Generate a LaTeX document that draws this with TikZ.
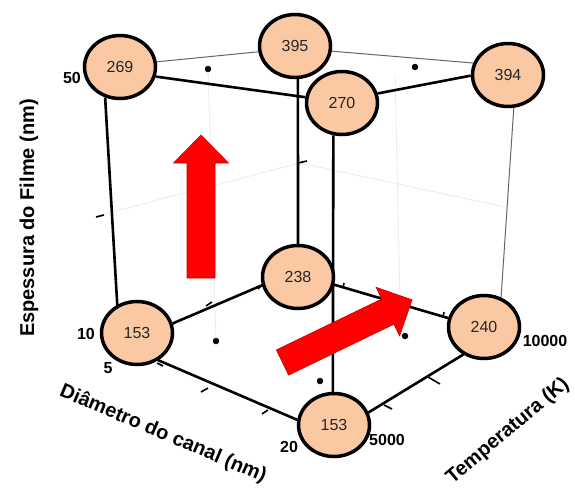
\documentclass[tikz,border=0pt]{standalone}
\usepackage{fontspec}
\setmainfont{Liberation Sans}
\usetikzlibrary{shapes.geometric,backgrounds}
\definecolor{peach}{RGB}{250,201,163}
\definecolor{arrowred}{RGB}{255,0,0}
\begin{document}
\begin{tikzpicture}[x=1pt,y=-1pt,
  val/.style={ellipse,draw=black,line width=3.5pt,fill=peach,minimum width=71pt,
    minimum height=63pt,inner sep=0pt,font=\fontsize{16}{18}\selectfont,text=black!85},
  edgethick/.style={line width=2.6pt,black},
  edgethin/.style={line width=1pt,black!60},
  ticklab/.style={font=\bfseries\fontsize{16}{18}\selectfont,inner sep=0pt},
  axlab/.style={font=\bfseries\fontsize{20}{22}\selectfont,inner sep=0pt},
  tickmark/.style={line width=1.6pt,black},
  gridline/.style={line width=0.8pt,black!8},
  griddot/.style={circle,fill=black,inner sep=0pt,minimum size=6.5pt},
  bigarrow/.style={fill=arrowred,draw=red!80!black,line width=0.6pt,line join=miter}
]
\useasboundingbox (0,0) rectangle (575,490);

% measured values at the corners of the design cube
\node[val] (a) at (120,67)  {269};
\node[val] (b) at (295,46)  {395};
\node[val] (c) at (342,103) {270};
\node[val] (d) at (508,75)  {394};
\node[val] (e) at (298,277) {238};
\node[val] (f) at (137,333) {153};
\node[val] (g) at (484,327) {240};
\node[val] (h) at (334,425) {153};

% centre points of the faces
\node[griddot] (m1) at (208,69) {};
\node[griddot] (m2) at (415,67) {};
\node[griddot] (m3) at (216,341) {};
\node[griddot] (m4) at (405,336) {};
\node[griddot] (m5) at (320,381) {};

\begin{pgfonlayer}{background}
  % faint pane grid
  \draw[gridline] (100,215) -- (300,163) -- (505,207);
  \draw[gridline] (m1) -- (m3);
  \draw[gridline] (395,75) -- (400,300);
  % cube edges
  \draw[edgethick] (a.-116) -- (f.125);
  \draw[edgethick] (a.-15)  -- (c.171);
  \draw[edgethin]  (a.8)    -- (b.-171);
  \draw[edgethin]  (b.-8)   -- (d.161);
  \draw[edgethick] (c.15)   -- (d.-179);
  \draw[edgethick] (b.-85)  -- (e.90);
  \draw[edgethick] (c.-105) -- (h.92);
  \draw[edgethin]  (d.-80)  -- (g.60);
  \draw[edgethick] (f.15)   -- (e.-167);
  \draw[edgethick] (e.-12)  -- (g.166);
  \draw[edgethick] (f.-52)  -- (h.172);
  \draw[edgethick] (g.-127) -- (h.20);
  % axis tick marks
  \draw[tickmark] (104,215) -- (96,217);
  \draw[tickmark] (298,163) -- (307,161);
  \draw[tickmark] (212,302) -- (206,306);
  \draw[tickmark] (258,289) -- (262,285);
  \draw[tickmark] (163,366) -- (157,363);
  \draw[tickmark] (208,388) -- (201,392);
  \draw[tickmark] (268,410) -- (262,414);
  \draw[tickmark] (428,377) -- (440,384);
  \draw[tickmark] (384,405) -- (392,409);
  \draw[tickmark] (343,288) -- (344,283);
  \draw[tickmark] (443,317) -- (444,312);
\end{pgfonlayer}

% axis values
\node[ticklab] (t50)    at (72,78)   {50};
\node[ticklab] (t10)    at (86,334)  {10};
\node[ticklab] (t5)     at (108,368) {5};
\node[ticklab] (t20)    at (289,447) {20};
\node[ticklab] (t5000)  at (387,440) {5000};
\node[ticklab] (t10000) at (545,341) {10000};

% axis titles
\node[axlab,rotate=90]  (ylab) at (29,218)  {Espessura do Filme (nm)};
\node[axlab,rotate=-23] (xlab) at (163,434) {Diâmetro do canal (nm)};
\node[axlab,rotate=40]  (zlab) at (508,431) {Temperatura (K)};

% block arrows showing the growth directions
\begin{scope}[shift={(201,278)},rotate=90]
  \path[bigarrow] (0,-14) -- (115,-14) -- (115,-27.5) -- (143,0)
    -- (115,27.5) -- (115,14) -- (0,14) -- cycle;
\end{scope}
\begin{scope}[shift={(282.5,362.5)},rotate=25.8]
  \path[bigarrow] (0,-14) -- (117,-14) -- (117,-27) -- (144,0)
    -- (117,27) -- (117,14) -- (0,14) -- cycle;
\end{scope}
\end{tikzpicture}
\end{document}
